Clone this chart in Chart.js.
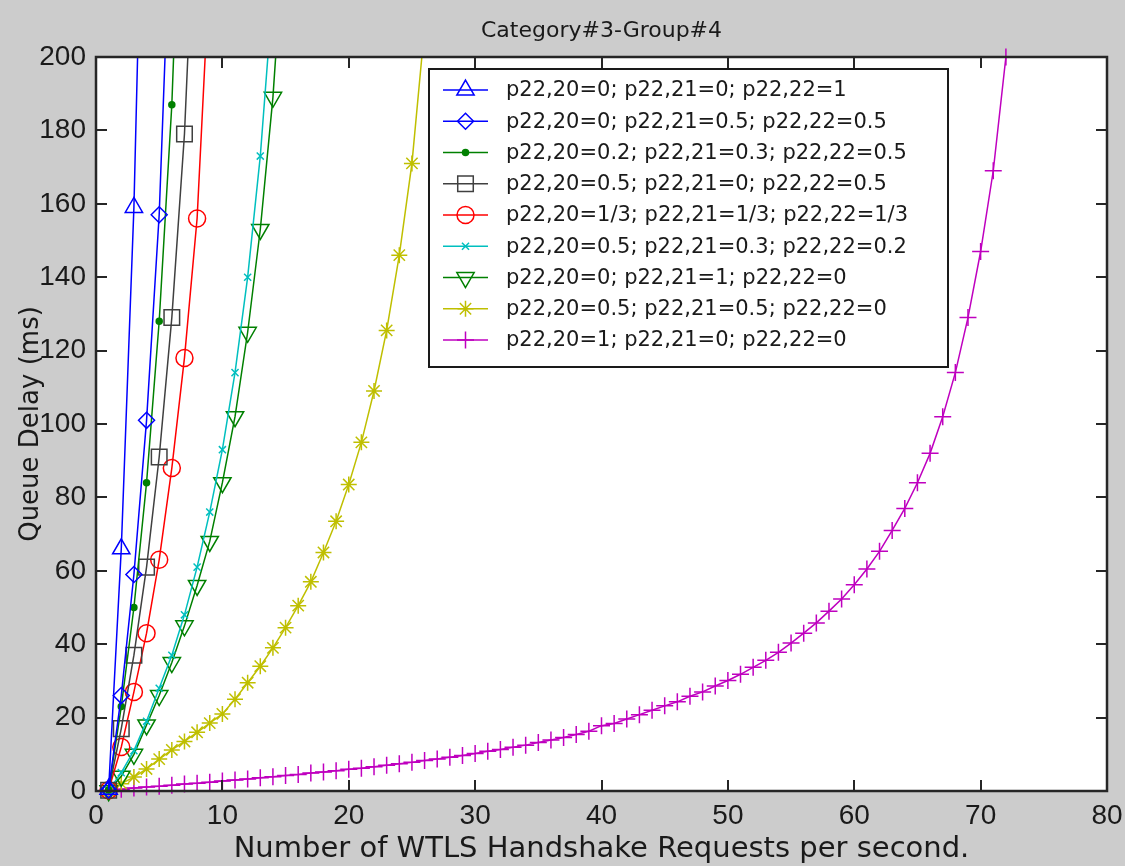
<!DOCTYPE html>
<html>
<head>
<meta charset="utf-8">
<script src="https://cdn.jsdelivr.net/npm/chart.js@4.4.1/dist/chart.umd.min.js"></script>
<style>
html, body { margin: 0; padding: 0; background: #cccccc; }
#wrap { width: 1125px; height: 866px; position: relative; }
</style>
</head>
<body>
<div id="wrap"><canvas id="c" width="1125" height="866"></canvas></div>
<script>
// ---------------- DATA ----------------
const chartTitle = 'Category#3-Group#4';
const xAxisTitle = 'Number of WTLS Handshake Requests per second.';
const yAxisTitle = 'Queue Delay (ms)';
const xTicks = [0, 10, 20, 30, 40, 50, 60, 70, 80];
const yTicks = [0, 20, 40, 60, 80, 100, 120, 140, 160, 180, 200];

const seriesLabels = [
  'p22,20=0; p22,21=0; p22,22=1',
  'p22,20=0; p22,21=0.5; p22,22=0.5',
  'p22,20=0.2; p22,21=0.3; p22,22=0.5',
  'p22,20=0.5; p22,21=0; p22,22=0.5',
  'p22,20=1/3; p22,21=1/3; p22,22=1/3',
  'p22,20=0.5; p22,21=0.3; p22,22=0.2',
  'p22,20=0; p22,21=1; p22,22=0',
  'p22,20=0.5; p22,21=0.5; p22,22=0',
  'p22,20=1; p22,21=0; p22,22=0'
];

// request rates (x values), shared by all series
const requests = [1,2,3,4,5,6,7,8,9,10,11,12,13,14,15,16,17,18,19,20,
  21,22,23,24,25,26,27,28,29,30,31,32,33,34,35,36,37,38,39,40,
  41,42,43,44,45,46,47,48,49,50,51,52,53,54,55,56,57,58,59,60,
  61,62,63,64,65,66,67,68,69,70,71,72];

const delayS1 = [0.5, 66, 159, 300];
const delayS2 = [0.3, 26, 59, 101, 157, 250];
const delayS3 = [0.3, 23, 50, 84, 128, 187, 280];
const delayS4 = [0.2, 17, 37, 61, 91, 129, 179, 258];
const delayS5 = [0.2, 12, 27, 43, 63, 88, 118, 156, 225];
const delayS6 = [0.1, 5, 11, 19, 28, 37, 48, 61, 76, 93, 114, 140, 173, 218];
const delayS7 = [0.1, 4, 10, 18, 26, 35, 45, 56, 68, 84, 102, 125, 153, 189, 240];
const delayS8 = [0.1, 2, 3.8, 6, 8.7, 11.2, 13.5, 16, 18.5, 21, 25, 29.5, 34, 39, 44.5,
  50.5, 57, 65, 73.5, 83.5, 95, 109, 125.5, 146, 171, 208, 260];
const delayS9 = [0.2, 0.5, 0.8, 1.1, 1.3, 1.6, 1.9, 2.1, 2.4, 2.7, 3.0, 3.3, 3.6, 3.9, 4.2,
  4.5, 4.9, 5.2, 5.5, 5.9, 6.2, 6.6, 7.0, 7.4, 7.8, 8.3, 8.7, 9.2, 9.7, 10.2,
  10.8, 11.3, 11.9, 12.5, 13.2, 13.9, 14.6, 15.4, 16.3, 17.8, 18.4, 19.6, 20.8, 22.0, 23.2,
  24.3, 25.8, 27.0, 28.6, 30.1, 31.8, 33.7, 35.6, 37.8, 40.3, 43.0, 45.8, 49.0, 52.3, 56.2,
  60.5, 65.3, 71, 77, 84, 92, 102, 114, 129, 147, 169, 200];

const seriesDelays = [delayS1, delayS2, delayS3, delayS4, delayS5, delayS6, delayS7, delayS8, delayS9];

// ---------------- STYLES ----------------
const seriesColors = ['#0000FF', '#0000FF', '#008000', '#404040', '#FF0000', '#00BFBF', '#008000', '#BFBF00', '#BF00BF'];
const markerStyles = [
  { pointStyle: 'triangle', radius: 10, rotation: 0, filled: false },
  { pointStyle: 'rectRot', radius: 8, rotation: 0, filled: false },
  { pointStyle: 'circle', radius: 3, rotation: 0, filled: true },
  { pointStyle: 'rect', radius: 11, rotation: 0, filled: false },
  { pointStyle: 'circle', radius: 8.5, rotation: 0, filled: false },
  { pointStyle: 'crossRot', radius: 5, rotation: 0, filled: false },
  { pointStyle: 'triangle', radius: 10, rotation: 180, filled: false },
  { pointStyle: 'star', radius: 8, rotation: 0, filled: false },
  { pointStyle: 'cross', radius: 8.5, rotation: 0, filled: false }
];
const FONT = '"DejaVu Sans", "Liberation Sans", sans-serif';
const TICKFONT = '"Liberation Sans", Arial, sans-serif';
const TEXT = '#1a1a1a';

// ---------------- DATASETS ----------------
const datasets = [];
seriesDelays.forEach((ys, i) => {
  const pts = ys.map((y, k) => ({ x: requests[k], y: y }));
  datasets.push({
    label: seriesLabels[i],
    data: pts,
    borderColor: seriesColors[i],
    borderWidth: 1.5,
    pointRadius: 0,
    tension: 0,
    fill: false,
    clip: 0
  });
  const m = markerStyles[i];
  datasets.push({
    label: seriesLabels[i] + ' markers',
    data: pts.filter(p => p.y <= 200.5),
    showLine: false,
    pointStyle: m.pointStyle,
    pointRadius: m.radius,
    pointRotation: m.rotation,
    pointBorderColor: seriesColors[i],
    pointBackgroundColor: m.filled ? seriesColors[i] : 'rgba(0,0,0,0)',
    pointBorderWidth: 1.5,
    clip: false
  });
});

// ---------------- PLUGIN ----------------
const matlabLook = {
  id: 'matlabLook',
  beforeDraw(chart) {
    const ctx = chart.ctx, a = chart.chartArea;
    ctx.save();
    ctx.fillStyle = '#cccccc';
    ctx.fillRect(0, 0, chart.width, chart.height);
    ctx.fillStyle = '#ffffff';
    ctx.fillRect(a.left, a.top, a.right - a.left, a.bottom - a.top);
    ctx.restore();
  },
  afterDatasetsDraw(chart) {
    const ctx = chart.ctx, a = chart.chartArea;
    const sx = chart.scales.x, sy = chart.scales.y;
    ctx.save();
    // inward ticks
    ctx.strokeStyle = '#262626';
    ctx.lineWidth = 2;
    const tl = 11;
    ctx.beginPath();
    xTicks.forEach(v => {
      const px = Math.round(sx.getPixelForValue(v));
      ctx.moveTo(px, a.bottom); ctx.lineTo(px, a.bottom - tl);
      ctx.moveTo(px, a.top); ctx.lineTo(px, a.top + tl);
    });
    yTicks.forEach(v => {
      const py = Math.round(sy.getPixelForValue(v));
      ctx.moveTo(a.left, py); ctx.lineTo(a.left + tl, py);
      ctx.moveTo(a.right, py); ctx.lineTo(a.right - tl, py);
    });
    ctx.stroke();
    // box
    ctx.lineWidth = 2.5;
    ctx.strokeRect(a.left, a.top, a.right - a.left, a.bottom - a.top);

    // legend
    const L = { left: 429, top: 69, right: 948, bottom: 367, row0: 90, gap: 31.25, l0: 443, l1: 488, tx: 506 };
    ctx.fillStyle = '#ffffff';
    ctx.fillRect(L.left, L.top, L.right - L.left, L.bottom - L.top);
    ctx.strokeStyle = '#1a1a1a';
    ctx.lineWidth = 2;
    ctx.strokeRect(L.left, L.top, L.right - L.left, L.bottom - L.top);
    ctx.font = '21px ' + FONT;
    ctx.textBaseline = 'middle';
    ctx.textAlign = 'left';
    seriesLabels.forEach((lab, i) => {
      const y = L.row0 + i * L.gap;
      const col = seriesColors[i];
      ctx.strokeStyle = col;
      ctx.lineWidth = 1.5;
      ctx.beginPath();
      ctx.moveTo(L.l0, y); ctx.lineTo(L.l1, y);
      ctx.stroke();
      const m = markerStyles[i];
      ctx.fillStyle = m.filled ? col : 'rgba(0,0,0,0)';
      ctx.strokeStyle = col;
      ctx.lineWidth = 1.5;
      Chart.helpers.drawPoint(ctx, { pointStyle: m.pointStyle, radius: m.radius, rotation: m.rotation, borderWidth: 1.5 }, (L.l0 + L.l1) / 2, y);
      ctx.fillStyle = TEXT;
      ctx.fillText(lab, L.tx, y + 1);
    });

    // titles
    ctx.fillStyle = TEXT;
    ctx.textAlign = 'center';
    ctx.textBaseline = 'alphabetic';
    ctx.font = '22px ' + FONT;
    ctx.fillText(chartTitle, (a.left + a.right) / 2, 37);
    ctx.font = '29px ' + FONT;
    ctx.fillText(xAxisTitle, (a.left + a.right) / 2, 857);
    ctx.font = '26px ' + FONT;
    ctx.save();
    ctx.translate(38, (a.top + a.bottom) / 2);
    ctx.rotate(-Math.PI / 2);
    ctx.fillText(yAxisTitle, 0, 0);
    ctx.restore();
    ctx.restore();
  }
};

new Chart(document.getElementById('c'), {
  type: 'line',
  data: { datasets: datasets },
  options: {
    responsive: false,
    animation: false,
    devicePixelRatio: 1,
    events: [],
    layout: { padding: { top: 57, right: 18, left: 0, bottom: 0 } },
    plugins: { legend: { display: false }, tooltip: { enabled: false }, title: { display: false } },
    scales: {
      x: {
        type: 'linear', min: 0, max: 80,
        afterBuildTicks: s => { s.ticks = xTicks.map(v => ({ value: v })); },
        afterFit: s => { s.height = 75; s.paddingLeft = 0; s.paddingRight = 0; },
        grid: { display: false, drawTicks: false },
        border: { display: false },
        ticks: { font: { family: TICKFONT, size: 28 }, color: TEXT, padding: 8, maxRotation: 0, autoSkip: false }
      },
      y: {
        type: 'linear', min: 0, max: 200,
        afterBuildTicks: s => { s.ticks = yTicks.map(v => ({ value: v })); },
        afterFit: s => { s.width = 96; s.paddingTop = 0; s.paddingBottom = 0; },
        grid: { display: false, drawTicks: false },
        border: { display: false },
        ticks: { font: { family: TICKFONT, size: 28 }, color: TEXT, padding: 10, autoSkip: false }
      }
    }
  },
  plugins: [matlabLook]
});
</script>
</body>
</html>
